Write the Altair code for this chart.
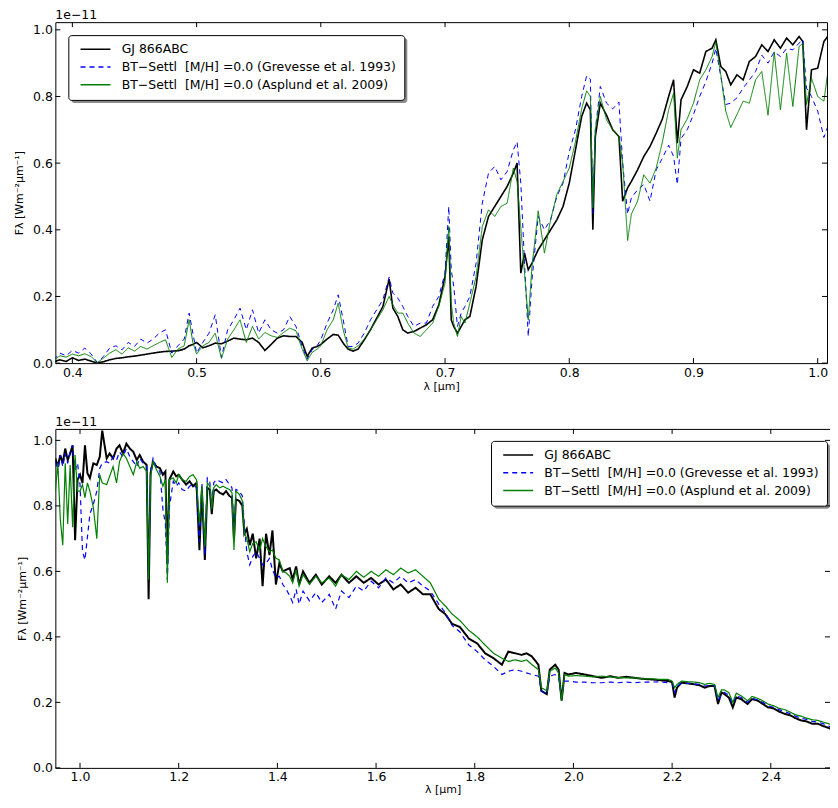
import altair as alt
import pandas as pd

NB = "\u00a0"
SERIES = ["GJ 866ABC",
          "BT\u2212Settl" + NB + NB + "[M/H] =0.0 (Grevesse et al. 1993)",
          "BT\u2212Settl" + NB + NB + "[M/H] =0.0 (Asplund et al. 2009)"]
COLORS = ["#000000", "#0000ff", "#008000"]
DASHES = [[1, 0], [5, 4], [1, 0]]

# ---------------- top panel (optical) ----------------
top_wl = [
    0.385, 0.390, 0.395, 0.400, 0.405, 0.410, 0.415, 0.420, 0.425, 0.430,
    0.435, 0.440, 0.445, 0.450, 0.455, 0.460, 0.465, 0.470, 0.475, 0.480,
    0.485, 0.490, 0.494, 0.497, 0.500, 0.505, 0.510, 0.515, 0.520, 0.525,
    0.530, 0.535, 0.540, 0.545, 0.550, 0.555, 0.560, 0.565, 0.570, 0.575,
    0.580, 0.585, 0.589, 0.593, 0.597, 0.600, 0.605, 0.610, 0.614, 0.618,
    0.622, 0.626, 0.630, 0.635, 0.640, 0.645, 0.650, 0.655, 0.658, 0.662,
    0.666, 0.670, 0.675, 0.680, 0.685, 0.690, 0.695, 0.700, 0.703, 0.705,
    0.707, 0.710, 0.713, 0.716, 0.720, 0.725, 0.730, 0.735, 0.740, 0.745,
    0.750, 0.755, 0.758, 0.761, 0.764, 0.767, 0.770, 0.775, 0.780, 0.785,
    0.790, 0.795, 0.800, 0.805, 0.810, 0.814, 0.817, 0.819, 0.821, 0.825,
    0.830, 0.835, 0.840, 0.843, 0.847, 0.850, 0.855, 0.860, 0.865, 0.870,
    0.875, 0.880, 0.884, 0.887, 0.890, 0.895, 0.900, 0.905, 0.910, 0.915,
    0.918, 0.922, 0.926, 0.930, 0.935, 0.940, 0.945, 0.950, 0.955, 0.960,
    0.965, 0.970, 0.975, 0.980, 0.985, 0.988, 0.991, 0.995, 1.000, 1.005,
    1.010,
]
top_gj = [
    0.004, 0.010, 0.005, 0.016, 0.008, 0.012, 0.006, 0.001, 0.004, 0.010,
    0.014, 0.016, 0.019, 0.021, 0.024, 0.027, 0.030, 0.033, 0.035, 0.036,
    0.037, 0.042, 0.052, 0.056, 0.062, 0.046, 0.052, 0.060, 0.058, 0.066,
    0.075, 0.072, 0.070, 0.075, 0.062, 0.038, 0.056, 0.075, 0.082, 0.080,
    0.080, 0.062, 0.020, 0.045, 0.050, 0.056, 0.072, 0.086, 0.084, 0.060,
    0.042, 0.036, 0.042, 0.070, 0.100, 0.135, 0.170, 0.252, 0.165, 0.140,
    0.100, 0.090, 0.095, 0.105, 0.115, 0.130, 0.175, 0.260, 0.380, 0.130,
    0.110, 0.090, 0.110, 0.130, 0.140, 0.230, 0.370, 0.440, 0.470, 0.500,
    0.530, 0.570, 0.600, 0.270, 0.330, 0.280, 0.300, 0.340, 0.370, 0.400,
    0.430, 0.470, 0.540, 0.640, 0.740, 0.780, 0.760, 0.400, 0.680, 0.780,
    0.744, 0.700, 0.680, 0.486, 0.526, 0.545, 0.580, 0.620, 0.650, 0.690,
    0.733, 0.800, 0.850, 0.660, 0.790, 0.830, 0.880, 0.870, 0.935, 0.945,
    0.970, 0.890, 0.875, 0.835, 0.865, 0.850, 0.905, 0.920, 0.955, 0.935,
    0.970, 0.945, 0.975, 0.955, 0.980, 0.965, 0.700, 0.880, 0.885, 0.965,
    0.990,
]
top_grevesse = [
    0.010, 0.030, 0.022, 0.038, 0.030, 0.045, 0.028, 0.002, 0.020, 0.045,
    0.052, 0.040, 0.062, 0.050, 0.072, 0.060, 0.072, 0.090, 0.100, 0.030,
    0.052, 0.072, 0.150, 0.090, 0.030, 0.062, 0.090, 0.145, 0.017, 0.100,
    0.130, 0.165, 0.100, 0.160, 0.090, 0.130, 0.100, 0.090, 0.100, 0.140,
    0.110, 0.050, 0.012, 0.040, 0.052, 0.070, 0.120, 0.160, 0.205, 0.130,
    0.050, 0.050, 0.060, 0.090, 0.130, 0.160, 0.190, 0.258, 0.210, 0.195,
    0.170, 0.140, 0.110, 0.120, 0.120, 0.170, 0.200, 0.270, 0.470, 0.280,
    0.230, 0.110, 0.150, 0.170, 0.200, 0.300, 0.480, 0.570, 0.590, 0.550,
    0.575, 0.640, 0.664, 0.540, 0.300, 0.080, 0.250, 0.440, 0.400, 0.430,
    0.500, 0.540, 0.634, 0.700, 0.800, 0.862, 0.852, 0.450, 0.700, 0.830,
    0.780, 0.763, 0.783, 0.600, 0.447, 0.496, 0.520, 0.536, 0.486, 0.580,
    0.615, 0.654, 0.620, 0.536, 0.674, 0.700, 0.746, 0.800, 0.845, 0.900,
    0.944, 0.860, 0.776, 0.780, 0.796, 0.825, 0.850, 0.875, 0.924, 0.900,
    0.934, 0.920, 0.944, 0.940, 0.960, 0.970, 0.825, 0.800, 0.756, 0.677,
    0.730,
]
top_asplund = [
    0.008, 0.022, 0.018, 0.027, 0.022, 0.028, 0.020, 0.001, 0.015, 0.030,
    0.040, 0.027, 0.046, 0.036, 0.050, 0.042, 0.052, 0.062, 0.070, 0.017,
    0.042, 0.052, 0.130, 0.062, 0.027, 0.052, 0.062, 0.090, 0.014, 0.072,
    0.100, 0.130, 0.062, 0.110, 0.072, 0.092, 0.082, 0.077, 0.092, 0.105,
    0.097, 0.042, 0.007, 0.032, 0.042, 0.052, 0.100, 0.130, 0.180, 0.100,
    0.046, 0.042, 0.052, 0.072, 0.100, 0.130, 0.160, 0.200, 0.175, 0.150,
    0.150, 0.120, 0.090, 0.080, 0.100, 0.120, 0.170, 0.240, 0.410, 0.180,
    0.120, 0.080, 0.140, 0.120, 0.180, 0.260, 0.410, 0.460, 0.440, 0.470,
    0.480, 0.585, 0.545, 0.407, 0.270, 0.130, 0.290, 0.457, 0.330, 0.430,
    0.506, 0.545, 0.585, 0.664, 0.763, 0.817, 0.800, 0.466, 0.700, 0.800,
    0.730, 0.700, 0.680, 0.600, 0.368, 0.447, 0.486, 0.565, 0.540, 0.585,
    0.664, 0.760, 0.810, 0.615, 0.700, 0.733, 0.780, 0.850, 0.880, 0.920,
    0.963, 0.865, 0.756, 0.707, 0.746, 0.786, 0.780, 0.850, 0.875, 0.744,
    0.934, 0.760, 0.930, 0.770, 0.950, 0.960, 0.776, 0.855, 0.800, 0.786,
    0.924,
]
top_xticks = [0.4, 0.5, 0.6, 0.7, 0.8, 0.9, 1.0]

# ---------------- bottom panel (near-infrared) ----------------
bot_wl = [
    0.950, 0.955, 0.960, 0.965, 0.970, 0.975, 0.980, 0.985, 0.990, 0.995,
    1.000, 1.005, 1.010, 1.015, 1.020, 1.027, 1.034, 1.040, 1.045, 1.054,
    1.060, 1.067, 1.074, 1.080, 1.087, 1.094, 1.101, 1.108, 1.115, 1.121,
    1.128, 1.135, 1.139, 1.143, 1.148, 1.155, 1.162, 1.168, 1.173, 1.177,
    1.181, 1.189, 1.195, 1.200, 1.207, 1.215, 1.222, 1.229, 1.236, 1.242,
    1.247, 1.253, 1.258, 1.263, 1.267, 1.271, 1.276, 1.283, 1.290, 1.296,
    1.303, 1.308, 1.312, 1.316, 1.323, 1.329, 1.333, 1.338, 1.344, 1.350,
    1.357, 1.364, 1.370, 1.377, 1.384, 1.390, 1.397, 1.404, 1.411, 1.418,
    1.425, 1.431, 1.438, 1.444, 1.452, 1.465, 1.478, 1.490, 1.505, 1.518,
    1.530, 1.545, 1.560, 1.575, 1.590, 1.605, 1.620, 1.635, 1.650, 1.665,
    1.680, 1.695, 1.710, 1.727, 1.740, 1.754, 1.770, 1.788, 1.805, 1.821,
    1.838, 1.855, 1.868, 1.882, 1.895, 1.905, 1.916, 1.929, 1.935, 1.946,
    1.952, 1.963, 1.970, 1.976, 1.982, 1.990, 2.005, 2.023, 2.040, 2.057,
    2.075, 2.090, 2.107, 2.124, 2.140, 2.158, 2.175, 2.192, 2.200, 2.205,
    2.210, 2.219, 2.232, 2.246, 2.256, 2.266, 2.276, 2.286, 2.293, 2.300,
    2.306, 2.315, 2.323, 2.330, 2.340, 2.353, 2.362, 2.374, 2.384, 2.394,
    2.405, 2.417, 2.428, 2.440, 2.450, 2.461, 2.472, 2.484, 2.495, 2.506,
    2.517, 2.528, 2.540,
]
bot_gj = [
    0.945, 0.920, 0.955, 0.930, 0.975, 0.940, 0.960, 0.985, 0.695, 0.880,
    0.895, 0.870, 0.985, 0.900, 0.885, 0.930, 0.925, 0.950, 1.030, 0.945,
    0.960, 0.945, 0.975, 0.985, 0.960, 0.990, 0.975, 0.965, 0.940, 0.955,
    0.935, 0.925, 0.515, 0.900, 0.935, 0.920, 0.915, 0.895, 0.905, 0.625,
    0.880, 0.905, 0.890, 0.895, 0.880, 0.865, 0.875, 0.860, 0.870, 0.665,
    0.850, 0.635, 0.855, 0.850, 0.775, 0.845, 0.850, 0.840, 0.835, 0.845,
    0.830, 0.825, 0.695, 0.820, 0.815, 0.800, 0.715, 0.730, 0.680, 0.715,
    0.640, 0.700, 0.555, 0.715, 0.650, 0.725, 0.560, 0.625, 0.600, 0.605,
    0.610, 0.575, 0.615, 0.560, 0.600, 0.565, 0.590, 0.560, 0.585, 0.565,
    0.590, 0.565, 0.585, 0.565, 0.580, 0.560, 0.575, 0.545, 0.560, 0.535,
    0.550, 0.530, 0.530, 0.485, 0.470, 0.440, 0.430, 0.395, 0.380, 0.350,
    0.335, 0.315, 0.355, 0.350, 0.345, 0.350, 0.340, 0.315, 0.235, 0.225,
    0.300, 0.315, 0.300, 0.205, 0.290, 0.285, 0.290, 0.285, 0.280, 0.275,
    0.280, 0.275, 0.278, 0.275, 0.272, 0.270, 0.268, 0.265, 0.262, 0.215,
    0.245, 0.260, 0.258, 0.255, 0.252, 0.245, 0.250, 0.250, 0.195, 0.230,
    0.225, 0.215, 0.185, 0.215, 0.210, 0.195, 0.210, 0.205, 0.195, 0.185,
    0.182, 0.172, 0.165, 0.160, 0.152, 0.145, 0.142, 0.135, 0.135, 0.128,
    0.122, 0.115, 0.118,
]
bot_grevesse = [
    0.935, 0.900, 0.955, 0.920, 0.960, 0.930, 0.965, 0.985, 0.910, 0.930,
    0.865, 0.660, 0.635, 0.705, 0.775, 0.805, 0.845, 0.915, 0.930, 0.935,
    0.930, 0.950, 0.940, 0.965, 0.950, 0.975, 0.950, 0.935, 0.920, 0.945,
    0.930, 0.920, 0.585, 0.910, 0.945, 0.915, 0.905, 0.790, 0.745, 0.575,
    0.795, 0.875, 0.860, 0.870, 0.850, 0.845, 0.860, 0.865, 0.855, 0.690,
    0.870, 0.650, 0.885, 0.875, 0.800, 0.870, 0.880, 0.875, 0.870, 0.880,
    0.865, 0.855, 0.700, 0.850, 0.845, 0.830, 0.740, 0.660, 0.620, 0.645,
    0.660, 0.640, 0.620, 0.625, 0.640, 0.605, 0.580, 0.585, 0.560, 0.545,
    0.525, 0.505, 0.545, 0.500, 0.540, 0.510, 0.535, 0.505, 0.530, 0.485,
    0.540, 0.520, 0.555, 0.540, 0.570, 0.550, 0.580, 0.565, 0.585, 0.565,
    0.575, 0.555, 0.540, 0.500, 0.475, 0.435, 0.415, 0.375, 0.355, 0.330,
    0.310, 0.285, 0.295, 0.300, 0.295, 0.290, 0.285, 0.280, 0.235, 0.225,
    0.280, 0.285, 0.275, 0.215, 0.265, 0.265, 0.262, 0.262, 0.260, 0.260,
    0.262, 0.260, 0.262, 0.260, 0.262, 0.262, 0.263, 0.260, 0.258, 0.230,
    0.250, 0.258, 0.258, 0.256, 0.255, 0.250, 0.252, 0.250, 0.205, 0.225,
    0.230, 0.222, 0.195, 0.220, 0.215, 0.200, 0.212, 0.208, 0.200, 0.190,
    0.185, 0.178, 0.172, 0.165, 0.158, 0.152, 0.148, 0.142, 0.140, 0.135,
    0.128, 0.122, 0.125,
]
bot_asplund = [
    0.845, 0.930, 0.760, 0.680, 0.930, 0.745, 0.925, 0.735, 0.955, 0.845,
    0.845, 0.865, 0.825, 0.870, 0.845, 0.795, 0.700, 0.895, 0.870, 0.865,
    0.890, 0.920, 0.870, 0.935, 0.960, 0.945, 0.920, 0.895, 0.935, 0.915,
    0.920, 0.905, 0.575, 0.890, 0.935, 0.910, 0.890, 0.860, 0.880, 0.565,
    0.880, 0.885, 0.870, 0.895, 0.880, 0.875, 0.890, 0.895, 0.880, 0.745,
    0.860, 0.675, 0.870, 0.860, 0.790, 0.855, 0.865, 0.855, 0.860, 0.855,
    0.850, 0.840, 0.665, 0.845, 0.835, 0.815, 0.720, 0.700, 0.660, 0.685,
    0.690, 0.665, 0.700, 0.675, 0.660, 0.665, 0.640, 0.635, 0.600, 0.595,
    0.585, 0.565, 0.605, 0.555, 0.590, 0.560, 0.585, 0.565, 0.580, 0.555,
    0.590, 0.575, 0.600, 0.582, 0.600, 0.585, 0.605, 0.590, 0.610, 0.595,
    0.605, 0.585, 0.565, 0.515, 0.495, 0.470, 0.450, 0.420, 0.400, 0.375,
    0.350, 0.335, 0.325, 0.330, 0.325, 0.330, 0.315, 0.300, 0.245, 0.235,
    0.295, 0.305, 0.290, 0.205, 0.285, 0.280, 0.282, 0.280, 0.278, 0.280,
    0.278, 0.276, 0.275, 0.275, 0.272, 0.272, 0.270, 0.270, 0.265, 0.245,
    0.255, 0.265, 0.263, 0.262, 0.260, 0.255, 0.258, 0.255, 0.215, 0.238,
    0.238, 0.230, 0.200, 0.228, 0.220, 0.205, 0.218, 0.212, 0.205, 0.195,
    0.190, 0.182, 0.178, 0.170, 0.162, 0.158, 0.152, 0.147, 0.145, 0.140,
    0.135, 0.130, 0.132,
]
bot_xticks = [1.0, 1.2, 1.4, 1.6, 1.8, 2.0, 2.2, 2.4]

y_ticks = [0.0, 0.2, 0.4, 0.6, 0.8, 1.0]

FONT = "DejaVu Sans"
FS = 12.5
TICK = 5
LEG_W, LEG_H = 337, 65


def panel(wl, curves, widths, xdom, ydom, xticks, w, h, legx, legy, ytitle_pad, xtitle_pad):
    xs = alt.Scale(domain=xdom, nice=False, zero=False)
    ys = alt.Scale(domain=ydom, nice=False, zero=False)
    xaxis = alt.Axis(values=xticks, format=".1f", title="\u03bb [\u03bcm]",
                     titlePadding=xtitle_pad)
    yaxis = alt.Axis(values=y_ticks, format=".1f",
                     title="F\u03bb  [Wm\u207b\u00b2\u03bcm\u207b\u00b9]",
                     titlePadding=ytitle_pad)
    leg = alt.Legend(orient="none", legendX=legx, legendY=legy, title=None,
                     strokeColor="black", fillColor="white", padding=8,
                     cornerRadius=3, symbolType="M-3,0H3", symbolSize=100,
                     symbolStrokeWidth=1.5, symbolOffset=13, labelOffset=20,
                     labelFontSize=FS, labelFont=FONT, labelColor="black",
                     labelLimit=500, rowPadding=4.8)
    color = alt.Color("series:N", scale=alt.Scale(domain=SERIES, range=COLORS),
                      legend=leg, title=None)
    dash = alt.StrokeDash("series:N", scale=alt.Scale(domain=SERIES, range=DASHES),
                          legend=leg, title=None)
    layers = []
    for name, vals, sw in zip(SERIES, curves, widths):
        df = pd.DataFrame({"wl": wl, "flux": vals, "series": name})
        layers.append(
            alt.Chart(df).mark_line(strokeWidth=sw, clip=True).encode(
                x=alt.X("wl:Q", scale=xs, axis=xaxis),
                y=alt.Y("flux:Q", scale=ys, axis=yaxis),
                color=color, strokeDash=dash,
            )
        )
    xt = pd.DataFrame({"v": xticks})
    yt = pd.DataFrame({"v": y_ticks})
    tick_style = dict(color="black", strokeWidth=1)
    layers += [
        # soft shadow behind the legend box
        alt.Chart(pd.DataFrame({"s": [0]})).mark_rect(
            color="#8a8a8a", cornerRadius=3, clip=True
        ).encode(x=alt.value(legx + 3), x2=alt.value(legx + 3 + LEG_W),
                 y=alt.value(legy + 3), y2=alt.value(legy + 3 + LEG_H)),
        alt.Chart(xt).mark_rule(**tick_style).encode(
            x=alt.X("v:Q", scale=xs, axis=xaxis), y=alt.value(h), y2=alt.value(h - TICK)),
        alt.Chart(xt).mark_rule(**tick_style).encode(
            x=alt.X("v:Q", scale=xs, axis=xaxis), y=alt.value(0), y2=alt.value(TICK)),
        alt.Chart(yt).mark_rule(**tick_style).encode(
            y=alt.Y("v:Q", scale=ys, axis=yaxis), x=alt.value(0), x2=alt.value(TICK)),
        alt.Chart(yt).mark_rule(**tick_style).encode(
            y=alt.Y("v:Q", scale=ys, axis=yaxis), x=alt.value(w), x2=alt.value(w - TICK)),
        alt.Chart(pd.DataFrame({"t": ["1e\u221211"]})).mark_text(
            align="left", baseline="alphabetic", fontSize=FS, font=FONT, color="black"
        ).encode(x=alt.value(0), y=alt.value(-3), text="t:N"),
    ]
    return alt.layer(*layers).properties(width=w, height=h)


top = panel(top_wl, [top_gj, top_grevesse, top_asplund], [1.6, 1.0, 1.0],
            [0.3863, 1.0075], [0.0, 1.023],
            top_xticks, 774, 342, 13, 13, 8, 2)
bottom = panel(bot_wl, [bot_gj, bot_grevesse, bot_asplund], [2.0, 1.2, 1.2],
               [0.95, 2.52], [0.0, 1.035],
               bot_xticks, 777, 340, 437, 12, 5, 0)

chart = alt.vconcat(top, bottom, spacing=23).properties(
    padding={"left": 4.5, "top": -1, "right": -1, "bottom": 0}
).resolve_scale(
    x="independent", y="independent", color="independent", strokeDash="independent"
).resolve_legend(color="independent", strokeDash="independent").configure(
    font=FONT
).configure_view(stroke="black", strokeWidth=1).configure_axis(
    labelFont=FONT, labelFontSize=FS, labelColor="black", titleFont=FONT,
    titleFontSize=11, titleFontWeight="normal", titleColor="black",
    ticks=False, domain=False, grid=False, labelPadding=3,
)

chart.save("out.html", embed_options={"renderer": "svg", "actions": False})
